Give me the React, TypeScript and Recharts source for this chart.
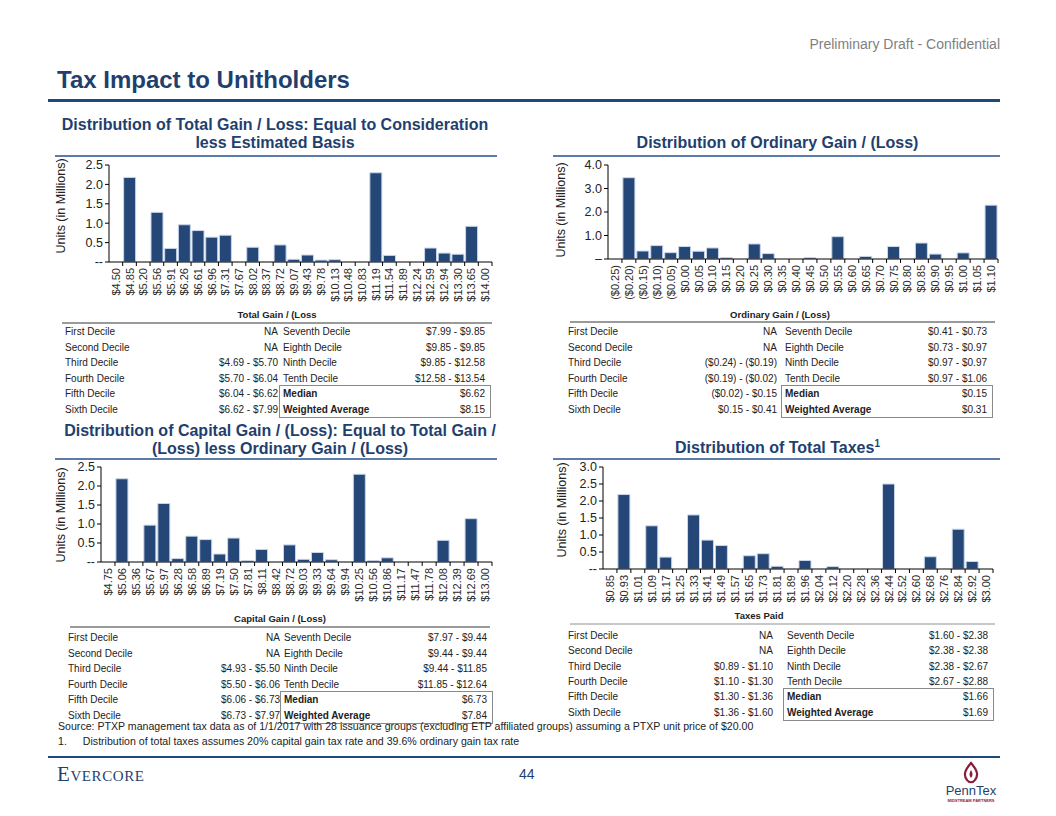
import React from "react";
import { BarChart, Bar, XAxis, YAxis } from "recharts";

// ---- chart data ----
const totalGainLabels = [
  "$4.50", "$4.85", "$5.20", "$5.56", "$5.91", "$6.26", "$6.61", "$6.96", "$7.31", "$7.67",
  "$8.02", "$8.37", "$8.72", "$9.07", "$9.43", "$9.78", "$10.13", "$10.48", "$10.83", "$11.19",
  "$11.54", "$11.89", "$12.24", "$12.59", "$12.94", "$13.30", "$13.65", "$14.00",
];
const totalGainUnits = [
  0, 2.18, 0, 1.28, 0.35, 0.96, 0.81, 0.64, 0.69, 0,
  0.38, 0, 0.44, 0.07, 0.18, 0.05, 0.06, 0, 0, 2.3,
  0.17, 0, 0, 0.36, 0.23, 0.2, 0.92, 0,
];

const ordinaryLabels = [
  "($0.25)", "($0.20)", "($0.15)", "($0.10)", "($0.05)", "$0.00", "$0.05", "$0.10", "$0.15", "$0.20",
  "$0.25", "$0.30", "$0.35", "$0.40", "$0.45", "$0.50", "$0.55", "$0.60", "$0.65", "$0.70",
  "$0.75", "$0.80", "$0.85", "$0.90", "$0.95", "$1.00", "$1.05", "$1.10",
];
const ordinaryUnits = [
  0, 3.46, 0.34, 0.57, 0.27, 0.53, 0.33, 0.47, 0.06, 0,
  0.64, 0.23, 0, 0, 0.06, 0, 0.95, 0, 0.11, 0,
  0.53, 0, 0.68, 0.21, 0, 0.26, 0, 2.29,
];

const capitalLabels = [
  "$4.75", "$5.06", "$5.36", "$5.67", "$5.97", "$6.28", "$6.58", "$6.89", "$7.19", "$7.50",
  "$7.81", "$8.11", "$8.42", "$8.72", "$9.03", "$9.33", "$9.64", "$9.94", "$10.25", "$10.56",
  "$10.86", "$11.17", "$11.47", "$11.78", "$12.08", "$12.39", "$12.69", "$13.00",
];
const capitalUnits = [
  0, 2.19, 0, 0.97, 1.54, 0.09, 0.68, 0.59, 0.21, 0.63,
  0.035, 0.33, 0, 0.45, 0.07, 0.25, 0.06, 0, 2.31, 0.035,
  0.11, 0, 0, 0, 0.57, 0, 1.14, 0,
];

const taxesLabels = [
  "$0.85", "$0.93", "$1.01", "$1.09", "$1.17", "$1.25", "$1.33", "$1.41", "$1.49", "$1.57",
  "$1.65", "$1.73", "$1.81", "$1.89", "$1.96", "$2.04", "$2.12", "$2.20", "$2.28", "$2.36",
  "$2.44", "$2.52", "$2.60", "$2.68", "$2.76", "$2.84", "$2.92", "$3.00",
];
const taxesUnits = [
  0, 2.19, 0, 1.27, 0.35, 0, 1.59, 0.85, 0.69, 0,
  0.39, 0.45, 0.08, 0, 0.25, 0, 0.07, 0, 0, 0,
  2.5, 0, 0, 0.36, 0, 1.17, 0.22, 0,
];

// ---- decile tables ----
const decileNamesLeft = ["First Decile", "Second Decile", "Third Decile", "Fourth Decile", "Fifth Decile", "Sixth Decile"];
const decileNamesRight = ["Seventh Decile", "Eighth Decile", "Ninth Decile", "Tenth Decile"];

const totalGainLeft = ["NA", "NA", "$4.69 - $5.70", "$5.70 - $6.04", "$6.04 - $6.62", "$6.62 - $7.99"];
const totalGainRight = ["$7.99 - $9.85", "$9.85 - $9.85", "$9.85 - $12.58", "$12.58 - $13.54"];
const totalGainStats = ["$6.62", "$8.15"];

const ordinaryLeft = ["NA", "NA", "($0.24) - ($0.19)", "($0.19) - ($0.02)", "($0.02) - $0.15", "$0.15 - $0.41"];
const ordinaryRight = ["$0.41 - $0.73", "$0.73 - $0.97", "$0.97 - $0.97", "$0.97 - $1.06"];
const ordinaryStats = ["$0.15", "$0.31"];

const capitalLeft = ["NA", "NA", "$4.93 - $5.50", "$5.50 - $6.06", "$6.06 - $6.73", "$6.73 - $7.97"];
const capitalRight = ["$7.97 - $9.44", "$9.44 - $9.44", "$9.44 - $11.85", "$11.85 - $12.64"];
const capitalStats = ["$6.73", "$7.84"];

const taxesLeft = ["NA", "NA", "$0.89 - $1.10", "$1.10 - $1.30", "$1.30 - $1.36", "$1.36 - $1.60"];
const taxesRight = ["$1.60 - $2.38", "$2.38 - $2.38", "$2.38 - $2.67", "$2.67 - $2.88"];
const taxesStats = ["$1.66", "$1.69"];

const NAVY = "#1F3F6E";
const BAR = "#254777";
const SANS = '"Liberation Sans", Arial, sans-serif';

// rotated category label plus a tick mark on the right-hand boundary of the category
function RotTick(props: any) {
  const { x, y, payload, half } = props;
  const ty = y + 1;
  return (
    <g>
      <line x1={x + half} x2={x + half} y1={y - 5} y2={y - 1} stroke="#000" />
      <text
        x={x}
        y={ty}
        transform={`rotate(-90 ${x} ${ty})`}
        textAnchor="end"
        dominantBaseline="central"
        fontSize={11}
        fontFamily={SANS}
        fill="#2a2a2a"
      >
        {payload.value}
      </text>
    </g>
  );
}

interface HistProps {
  left: number;
  top: number;
  width: number;
  height: number;
  yWidth: number;
  plotH: number;
  plotW: number;
  labels: string[];
  values: number[];
  max: number;
  ticks: number[];
  zero: string;
}

function Histogram({ left, top, width, height, yWidth, plotH, plotW, labels, values, max, ticks, zero }: HistProps) {
  const data = labels.map((label, i) => ({ label, units: values[i] }));
  const marginTop = 10;
  const right = width - yWidth - plotW;
  const xHeight = height - marginTop - plotH;
  const half = plotW / labels.length / 2;
  return (
    <div style={{ position: "absolute", left, top }}>
      <BarChart
        width={width}
        height={height}
        data={data}
        margin={{ top: marginTop, right, bottom: 0, left: 0 }}
        barCategoryGap="7%"
      >
        <XAxis
          dataKey="label"
          interval={0}
          tick={<RotTick half={half} />}
          height={xHeight}
          tickSize={4}
          tickMargin={1}
          axisLine={{ stroke: "#000" }}
          tickLine={false}
        />
        <YAxis
          width={yWidth}
          domain={[0, max]}
          ticks={ticks}
          interval={0}
          tickSize={4}
          tickFormatter={(v: number) => (v === 0 ? zero : v.toFixed(1))}
          tick={{ fontSize: 12.5, fill: "#222", fontFamily: SANS }}
          axisLine={{ stroke: "#000" }}
          tickLine={{ stroke: "#000" }}
        />
        <Bar dataKey="units" fill={BAR} stroke="#C9D6EA" strokeWidth={1} isAnimationActive={false} />
      </BarChart>
    </div>
  );
}

function Abs({ x, y, children, style }: { x: number; y: number; children: React.ReactNode; style?: React.CSSProperties }) {
  return <div style={{ position: "absolute", left: x, top: y, whiteSpace: "nowrap", ...style }}>{children}</div>;
}

function VLabel({ cx, cy }: { cx: number; cy: number }) {
  return (
    <div
      style={{
        position: "absolute",
        left: cx,
        top: cy,
        transform: "translate(-50%, -50%) rotate(-90deg)",
        fontSize: 12.5,
        fontFamily: SANS,
        color: "#222",
        whiteSpace: "nowrap",
      }}
    >
      Units (in Millions)
    </div>
  );
}

interface TableProps {
  x: number;
  y: number;
  row: number;
  c1: number; // right edge of first value column (relative)
  c2: number; // start of second label column
  c3: number; // right edge of second value column
  leftVals: string[];
  rightVals: string[];
  stats: string[];
}

function DecileTable({ x, y, row, c1, c2, c3, leftVals, rightVals, stats }: TableProps) {
  const txt: React.CSSProperties = { fontSize: 10, fontFamily: SANS, color: "#222", lineHeight: `${row}px`, whiteSpace: "nowrap" };
  return (
    <div style={{ position: "absolute", left: x, top: y, width: c3 + 6, height: row * 6 }}>
      {decileNamesLeft.map((n, i) => (
        <React.Fragment key={n}>
          <div style={{ ...txt, position: "absolute", left: 0, top: i * row }}>{n}</div>
          <div style={{ ...txt, position: "absolute", right: c3 + 6 - c1, top: i * row }}>{leftVals[i]}</div>
        </React.Fragment>
      ))}
      {decileNamesRight.map((n, i) => (
        <React.Fragment key={n}>
          <div style={{ ...txt, position: "absolute", left: c2, top: i * row }}>{n}</div>
          <div style={{ ...txt, position: "absolute", right: 6, top: i * row }}>{rightVals[i]}</div>
        </React.Fragment>
      ))}
      <div
        style={{
          position: "absolute",
          left: c2 - 4,
          top: 4 * row - 1,
          width: c3 - c2 + 8,
          height: row * 2,
          border: "1px solid #8a8a8a",
        }}
      />
      {["Median", "Weighted Average"].map((n, i) => (
        <React.Fragment key={n}>
          <div style={{ ...txt, position: "absolute", left: c2, top: (4 + i) * row, fontWeight: 700 }}>{n}</div>
          <div style={{ ...txt, position: "absolute", right: 6, top: (4 + i) * row }}>{stats[i]}</div>
        </React.Fragment>
      ))}
    </div>
  );
}

const subStyle: React.CSSProperties = {
  fontFamily: SANS,
  fontWeight: 700,
  fontSize: 16,
  color: NAVY,
  textAlign: "center",
  lineHeight: "18px",
};

const axisTitle: React.CSSProperties = {
  fontFamily: SANS,
  fontWeight: 700,
  fontSize: 9.5,
  color: "#222",
  transform: "translateX(-50%)",
};

const RULE = "#9a9a9a";

export default function App() {
  return (
    <div
      style={{
        position: "absolute",
        left: 0,
        top: 0,
        width: 1056,
        height: 816,
        background: "#fff",
        overflow: "hidden",
      }}
    >
      <Abs x={0} y={36} style={{ width: 1000, textAlign: "right", fontFamily: SANS, fontSize: 14, color: "#7F7F7F" }}>
        Preliminary Draft - Confidential
      </Abs>
      <Abs x={57} y={66} style={{ fontFamily: SANS, fontWeight: 700, fontSize: 24, color: NAVY }}>
        Tax Impact to Unitholders
      </Abs>
      <div style={{ position: "absolute", left: 48, top: 99, width: 952, height: 3, background: "#1F497D" }} />

      {/* sub titles */}
      <Abs x={55} y={116} style={{ ...subStyle, width: 440 }}>
        Distribution of Total Gain / Loss: Equal to Consideration
        <br />
        less Estimated Basis
      </Abs>
      <Abs x={555} y={134} style={{ ...subStyle, width: 445 }}>
        Distribution of Ordinary Gain / (Loss)
      </Abs>
      <Abs x={55} y={422} style={{ ...subStyle, width: 450 }}>
        Distribution of Capital Gain / (Loss): Equal to Total Gain /
        <br />
        (Loss) less Ordinary Gain / (Loss)
      </Abs>
      <Abs x={555} y={439} style={{ ...subStyle, width: 445 }}>
        Distribution of Total Taxes<sup style={{ fontSize: 10, lineHeight: 0 }}>1</sup>
      </Abs>

      {/* rules under sub titles */}
      <div style={{ position: "absolute", left: 55, top: 155, width: 442, height: 1.5, background: "#5B7BA8" }} />
      <div style={{ position: "absolute", left: 553, top: 155, width: 447, height: 1.5, background: "#5B7BA8" }} />
      <div style={{ position: "absolute", left: 55, top: 458, width: 442, height: 1.5, background: "#5B7BA8" }} />
      <div style={{ position: "absolute", left: 553, top: 458, width: 447, height: 1.5, background: "#5B7BA8" }} />

      {/* chart 1 */}
      <Histogram left={55} top={155} width={445} height={175} yWidth={54} plotH={97} plotW={383}
        labels={totalGainLabels} values={totalGainUnits} max={2.5} ticks={[0, 0.5, 1, 1.5, 2, 2.5]} zero="--" />
      <VLabel cx={61} cy={206} />
      <Abs x={277} y={309} style={axisTitle}>Total Gain / (Loss</Abs>
      <div style={{ position: "absolute", left: 62, top: 322, width: 430, height: 2, background: RULE }} />

      {/* chart 2 */}
      <Histogram left={550} top={155} width={455} height={175} yWidth={58} plotH={94} plotW={390}
        labels={ordinaryLabels} values={ordinaryUnits} max={4} ticks={[0, 1, 2, 3, 4]} zero="–" />
      <VLabel cx={561} cy={210} />
      <Abs x={780} y={309} style={axisTitle}>Ordinary Gain / (Loss)</Abs>
      <div style={{ position: "absolute", left: 570, top: 321, width: 425, height: 2, background: RULE }} />

      {/* chart 3 */}
      <Histogram left={50} top={457} width={450} height={170} yWidth={51} plotH={95} plotW={391}
        labels={capitalLabels} values={capitalUnits} max={2.5} ticks={[0, 0.5, 1, 1.5, 2, 2.5]} zero="--" />
      <VLabel cx={61} cy={515} />
      <Abs x={280} y={613} style={axisTitle}>Capital Gain / (Loss)</Abs>
      <div style={{ position: "absolute", left: 70, top: 626, width: 420, height: 2, background: RULE }} />

      {/* chart 4 */}
      <Histogram left={550} top={457} width={450} height={170} yWidth={53} plotH={102} plotW={390}
        labels={taxesLabels} values={taxesUnits} max={3} ticks={[0, 0.5, 1, 1.5, 2, 2.5, 3]} zero="--" />
      <VLabel cx={562} cy={510} />
      <Abs x={759} y={610} style={axisTitle}>Taxes Paid</Abs>
      <div style={{ position: "absolute", left: 570, top: 623, width: 425, height: 2, background: "#c8c8c8" }} />

      {/* tables */}
      <DecileTable x={65} y={324} row={15.5} c1={213} c2={218} c3={420}
        leftVals={totalGainLeft} rightVals={totalGainRight} stats={totalGainStats} />
      <DecileTable x={568} y={324} row={15.5} c1={209} c2={217} c3={419}
        leftVals={ordinaryLeft} rightVals={ordinaryRight} stats={ordinaryStats} />
      <DecileTable x={68} y={630} row={15.5} c1={212} c2={216} c3={419}
        leftVals={capitalLeft} rightVals={capitalRight} stats={capitalStats} />
      <DecileTable x={568} y={628} row={15.3} c1={205} c2={219} c3={420}
        leftVals={taxesLeft} rightVals={taxesRight} stats={taxesStats} />

      {/* notes */}
      <Abs x={58} y={720} style={{ fontFamily: SANS, fontSize: 10.6, color: "#222" }}>
        Source: PTXP management tax data as of 1/1/2017 with 28 issuance groups (excluding ETP affiliated groups) assuming a PTXP unit price of $20.00
      </Abs>
      <Abs x={58} y={735} style={{ fontFamily: SANS, fontSize: 10.6, color: "#222" }}>
        1.<span style={{ display: "inline-block", width: 16 }} />Distribution of total taxes assumes 20% capital gain tax rate and 39.6% ordinary gain tax rate
      </Abs>

      {/* footer */}
      <div style={{ position: "absolute", left: 48, top: 756, width: 952, height: 2, background: "#1F497D" }} />
      <Abs x={57} y={762} style={{ fontFamily: '"Liberation Serif", serif', fontVariant: "small-caps", fontSize: 21, color: NAVY, letterSpacing: 0.6 }}>
        Evercore
      </Abs>
      <Abs x={519} y={766} style={{ fontFamily: SANS, fontSize: 14, color: NAVY }}>
        44
      </Abs>
      <svg style={{ position: "absolute", left: 940, top: 760 }} width={62} height={44}>
        <path d="M31 3 C25 10 23 15 27 20 C29 23 33 23 35 20 C39 15 37 10 31 3 Z" fill="none" stroke="#8B1C3A" strokeWidth={2.2} />
        <path d="M31 10 C29 13 29 16 31 18 C33 16 33 13 31 10 Z" fill="#8B1C3A" />
        <text x={31} y={35} textAnchor="middle" fontFamily={SANS} fontSize={13} fill={NAVY}>PennTex</text>
        <text x={31} y={42} textAnchor="middle" fontFamily={SANS} fontSize={4} fontWeight={700} fill="#8B1C3A">MIDSTREAM PARTNERS</text>
      </svg>
    </div>
  );
}
